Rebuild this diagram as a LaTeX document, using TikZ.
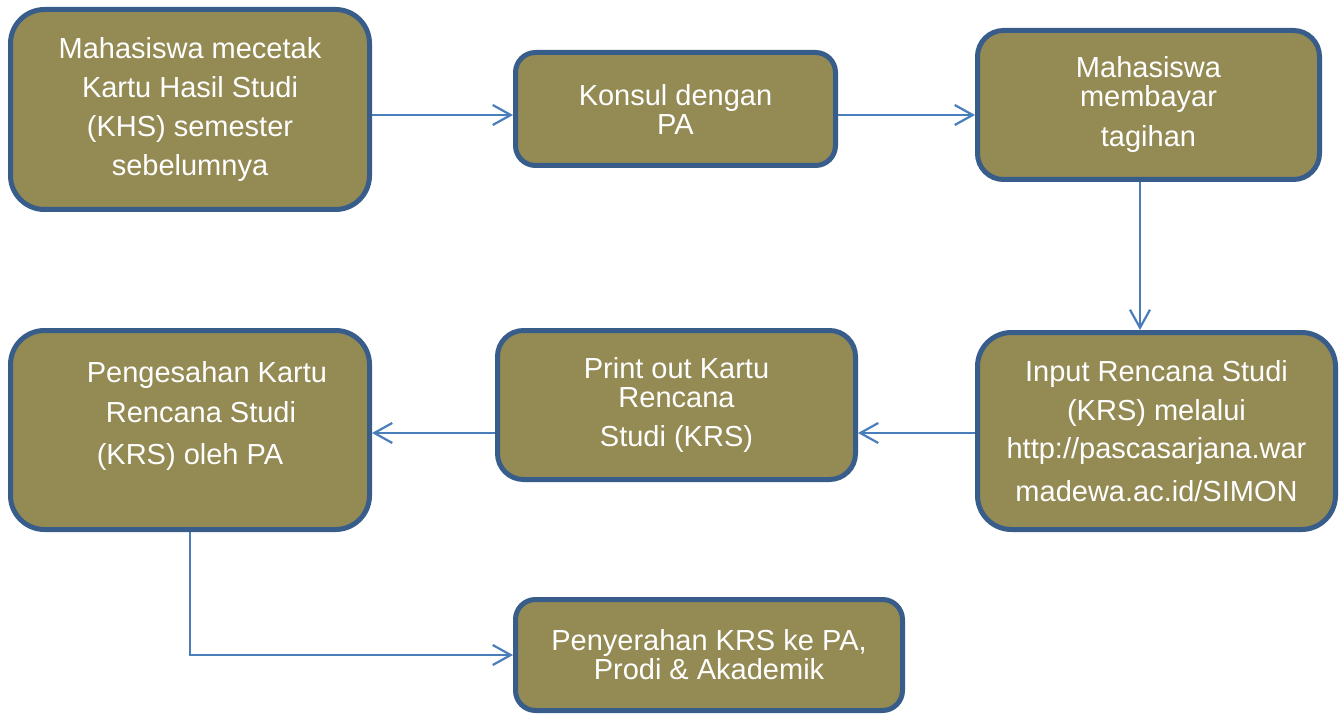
\documentclass[tikz,border=0pt]{standalone}
\usepackage{fontspec}
\setmainfont{Liberation Sans}
\usepackage{tikz}
\usetikzlibrary{arrows.meta,positioning,calc}
\usepackage{xcolor}
\definecolor{boxfill}{HTML}{948A54}
\definecolor{boxline}{HTML}{385D8A}
\definecolor{flowline}{HTML}{4A7EBB}

\begin{document}
\begin{tikzpicture}[x=0.5pt,y=-0.5pt,
    stepbox/.style={draw=boxline, line width=2.5pt, fill=boxfill, text=white,
        align=center, inner sep=2pt, font=\fontsize{14.5}{14.5}\selectfont},
    flow/.style={draw=flowline, line width=1.1pt,
        -{Straight Barb[length=9pt,width=10pt]}}]
    \useasboundingbox (0,0) rectangle (1340,717);

    % Top row
    \node[stepbox, rounded corners=17pt, minimum width=179.5pt, minimum height=100pt]
        (khs) at (190,109.5) {Mahasiswa mecetak\\[5pt]Kartu Hasil Studi\\[5pt](KHS) semester\\[5pt]sebelumnya};
    \node[stepbox, rounded corners=10pt, minimum width=160pt, minimum height=56.5pt]
        (konsul) at (675.5,109) {Konsul dengan\\PA};
    \node[stepbox, rounded corners=13pt, minimum width=171pt, minimum height=74.5pt]
        (bayar) at (1148.5,105) {Mahasiswa\\membayar\\[5.5pt]tagihan};

    % Middle row
    \node[stepbox, rounded corners=17pt, minimum width=179pt, minimum height=98.5pt]
        (input) at (1156.5,431) {Input Rencana Studi\\[5pt](KRS) melalui\\[4.5pt]http://pascasarjana.war\\[7pt]madewa.ac.id/SIMON};
    \node[stepbox, rounded corners=13pt, minimum width=179pt, minimum height=74.5pt]
        (cetak) at (676.5,405) {Print out Kartu\\Rencana\\[5pt]Studi (KRS)};
    \node[stepbox, rounded corners=17pt, minimum width=179.5pt, minimum height=99.5pt]
        (sah) at (190,430) {\hspace*{17pt}Pengesahan Kartu\\[5.5pt]\hspace*{11pt}Rencana Studi\\[6.5pt](KRS) oleh PA\\[2.5pt]\mbox{}};

    % Bottom row
    \node[stepbox, rounded corners=10pt, minimum width=193.5pt, minimum height=55.5pt]
        (serah) at (709,655) {Penyerahan KRS ke PA,\\Prodi \& Akademik};

    % Connectors
    \draw[flow] ([yshift=-2.75pt]khs.east) -- ([yshift=-2.75pt]khs.east -| konsul.west);
    \draw[flow] ([yshift=-3pt]konsul.east) -- ([yshift=-3pt]konsul.east -| bayar.west);
    \draw[flow] ([xshift=-4.25pt]bayar.south) -- ([xshift=-4.25pt]bayar.south |- input.north);
    \draw[flow] ([yshift=-1pt]input.west) -- ([yshift=-1pt]input.west -| cetak.east);
    \draw[flow] ([yshift=-1pt]input.west -| cetak.west) -- ([yshift=-1pt]input.west -| sah.east);
    \draw[flow] (sah.south) |- (serah.west);
\end{tikzpicture}
\end{document}
